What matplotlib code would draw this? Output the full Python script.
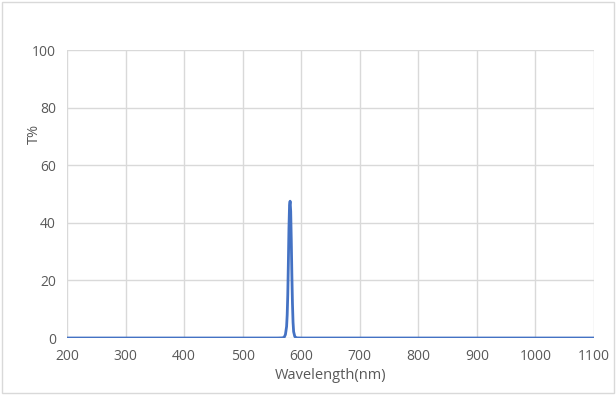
import matplotlib.pyplot as plt
from matplotlib.patches import Rectangle

# transmission curve (nm, %)
wavelength = [200, 560, 568, 571, 573, 575, 576, 577, 578, 579, 580, 581, 582, 583, 584,
              585, 586, 587, 589, 592, 600, 1100]
transmission = [0, 0, 0.05, 0.3, 1.2, 4, 8, 15, 26, 38, 46, 47.5, 44, 34, 22,
                12, 5.5, 2.2, 0.5, 0.05, 0, 0]

x_ticks = [200, 300, 400, 500, 600, 700, 800, 900, 1000, 1100]
y_ticks = [0, 20, 40, 60, 80, 100]

grid_color = "#D9D9D9"
text_color = "#595959"

fig = plt.figure(figsize=(6.16, 4.01), dpi=100)
# light frame around the whole chart, like the excel chart area
fig.patches.append(Rectangle((1.5 / 616, 1 - 392.5 / 401), 612.5 / 616, 391 / 401,
                             transform=fig.transFigure, fill=False,
                             edgecolor=grid_color, linewidth=1))
ax = fig.add_axes([0.1088, 0.1571, 0.8555, 0.7182])

ax.plot(wavelength, transmission, color="#4472C4", linewidth=2, zorder=3,
        solid_joinstyle="round")

ax.set_xlim(200, 1100)
ax.set_ylim(0, 100)
ax.set_xticks(x_ticks)
ax.set_yticks(y_ticks)
ax.grid(True, color=grid_color, linewidth=1)
for s in ax.spines.values():
    s.set_visible(False)
ax.tick_params(length=0, labelsize=10, labelcolor=text_color, pad=8)
for lab in ax.get_xticklabels() + ax.get_yticklabels():
    lab.set_fontfamily("Open Sans")

ax.set_xlabel("Wavelength(nm)", fontsize=10.5, color=text_color, fontfamily="Open Sans", labelpad=3)
ax.set_ylabel("T%", fontsize=10.5, color=text_color, fontfamily="Open Sans")
ax.yaxis.set_label_coords(-0.047, 0.708)

plt.savefig("out.png", dpi=100)
